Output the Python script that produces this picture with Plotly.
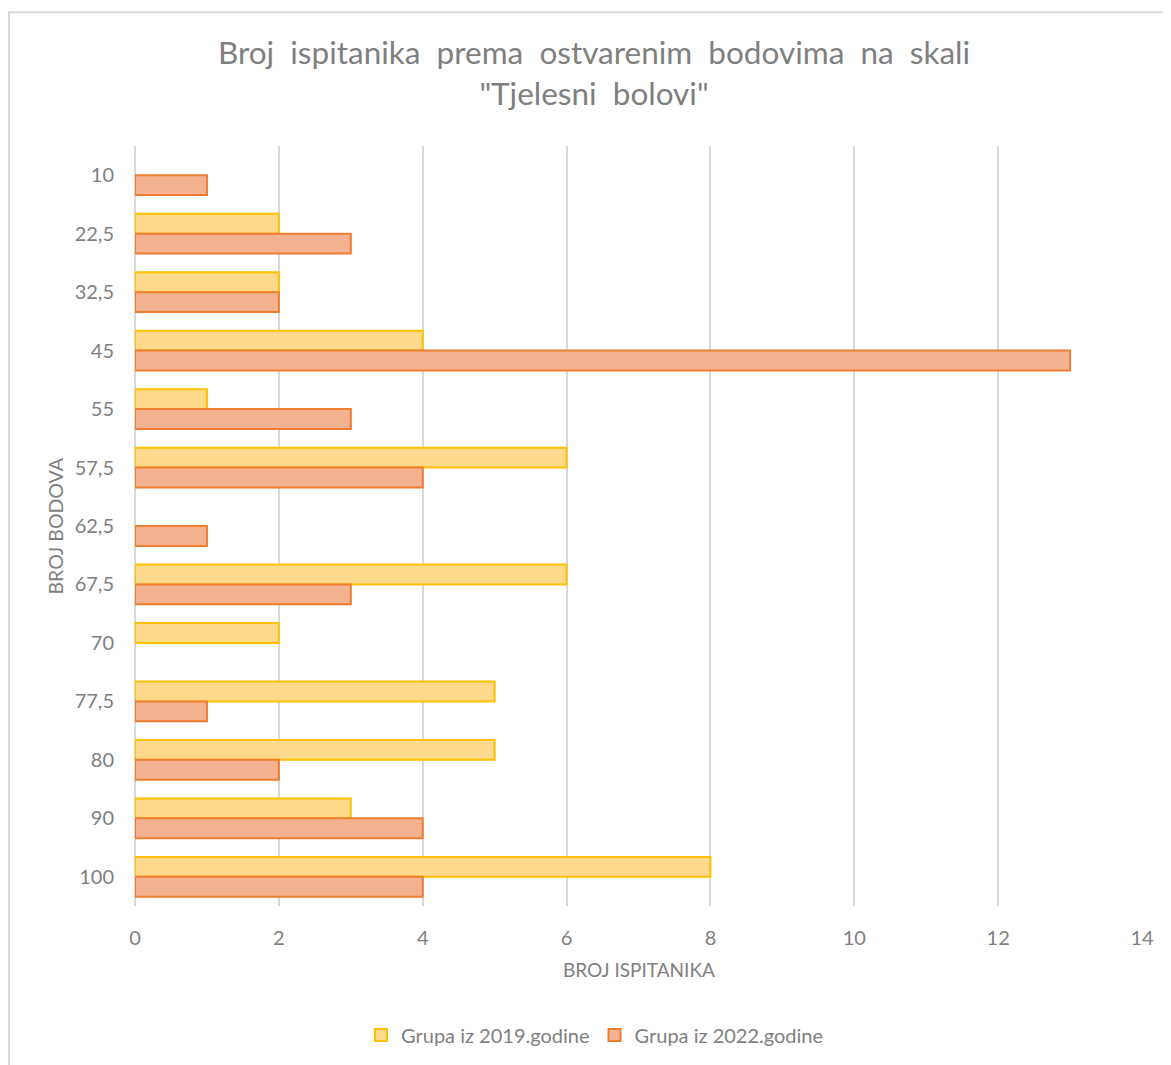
import plotly.graph_objects as go

categories = ["10", "22,5", "32,5", "45", "55", "57,5", "62,5", "67,5", "70", "77,5", "80", "90", "100"]
g2019 = [None, 2, 2, 4, 1, 6, None, 6, 2, 5, 5, 3, 8]
g2022 = [1, 3, 2, 13, 3, 4, 1, 3, None, 1, 2, 4, 4]
xticks = [0, 2, 4, 6, 8, 10, 12, 14]

FONT = "Lato, Open Sans, sans-serif"
GRAY = "#7f7f7f"

fig = go.Figure()
fig.add_trace(go.Bar(
    y=categories, x=g2019, orientation="h", name="Grupa iz 2019.godine",
    marker=dict(color="#FFD98C", line=dict(color="#FFC000", width=2)),
))
fig.add_trace(go.Bar(
    y=categories, x=g2022, orientation="h", name="Grupa iz 2022.godine",
    marker=dict(color="#F5B291", line=dict(color="#ED7D31", width=2)),
))

# page has an 8px body margin; figure coordinates = page coordinates - 8
OFF = 8
W, H = 1171 - OFF, 1065 - OFF
L, R, T, B = 135 - OFF, 29, 146 - OFF, 158
pw, ph = W - L - R, H - T - B


def px_x(p):
    return (p - OFF - L) / pw


def px_y(p):
    return (H - B - (p - OFF)) / ph


fig.update_layout(
    width=W, height=H,
    margin=dict(l=L, r=R, t=T, b=B),
    paper_bgcolor="white", plot_bgcolor="white",
    barmode="group", bargap=0.32, bargroupgap=0,
    font=dict(family=FONT, color=GRAY, size=20),
    title=dict(
        text="Broj  ispitanika  prema  ostvarenim  bodovima  na  skali<br>\"Tjelesni  bolovi\"",
        x=px_x(594), xref="paper", xanchor="center",
        y=1 - (64 - OFF) / H, yanchor="middle",
        font=dict(family=FONT, size=31.5, color=GRAY),
    ),
    xaxis=dict(
        range=[0, 14], tickvals=xticks, showgrid=True, gridcolor="#D9D9D9", gridwidth=2,
        zeroline=True, zerolinecolor="#D9D9D9", zerolinewidth=2,
        showline=False, ticks="", ticklabelstandoff=18,
        tickfont=dict(size=20, color=GRAY), fixedrange=True,
    ),
    yaxis=dict(
        type="category", categoryorder="array", categoryarray=categories,
        autorange="reversed", showgrid=False, zeroline=False, showline=False,
        ticks="", ticklabelstandoff=20, tickfont=dict(size=20, color=GRAY),
    ),
    showlegend=True,
    legend=dict(
        orientation="h", x=px_x(595), xanchor="center", y=px_y(1035), yanchor="middle",
        font=dict(size=20, color=GRAY), traceorder="normal",
        itemwidth=30, tracegroupgap=0,
    ),
    annotations=[
        dict(text="BROJ ISPITANIKA", x=px_x(639), y=px_y(971), xref="paper", yref="paper",
             showarrow=False, xanchor="center", yanchor="middle",
             font=dict(size=19, color=GRAY, family=FONT)),
        dict(text="BROJ BODOVA", x=px_x(55), y=px_y(527), xref="paper", yref="paper",
             showarrow=False, xanchor="center", yanchor="middle", textangle=-90,
             font=dict(size=19.5, color=GRAY, family=FONT)),
    ],
    shapes=[
        dict(type="rect", xref="paper", yref="paper",
             x0=px_x(9), x1=px_x(1250), y0=px_y(1150), y1=px_y(12),
             line=dict(color="#D9D9D9", width=2), fillcolor="rgba(0,0,0,0)", layer="below"),
    ],
)

fig.write_html("out.html")
